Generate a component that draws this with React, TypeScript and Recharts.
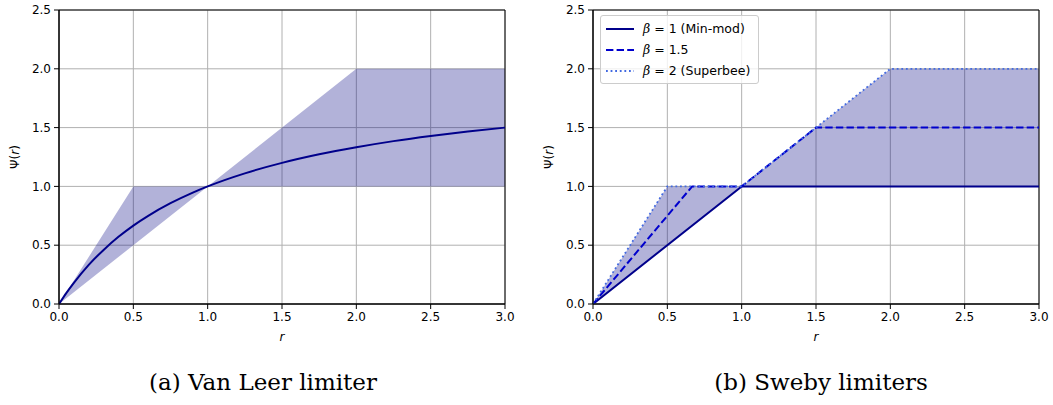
import React from 'react';
import {
  ComposedChart,
  Area,
  Line,
  XAxis,
  YAxis,
  CartesianGrid,
  ReferenceArea
} from 'recharts';

// axis ticks
const R_TICKS = [0, 0.5, 1, 1.5, 2, 2.5, 3];
const PSI_TICKS = [0, 0.5, 1, 1.5, 2, 2.5];

// second-order TVD region (shaded)
const regionR = [0, 0.5, 1, 2, 3];
const regionLow = [0, 0.5, 1, 1, 1];
const regionHigh = [0, 1, 1, 2, 2];

// Van Leer limiter curve
const vanLeerR = [0, 0.05, 0.1, 0.2, 0.3, 0.4, 0.5, 0.6, 0.75, 0.9, 1, 1.25, 1.5, 1.75, 2, 2.25, 2.5, 2.75, 3];
const vanLeerPsi = [0, 0.095, 0.18, 0.333, 0.46, 0.571, 0.667, 0.75, 0.857, 0.947, 1, 1.111, 1.2, 1.273, 1.333, 1.385, 1.429, 1.467, 1.5];

// Sweby limiters
const minmodR = [0, 1, 3];
const minmodPsi = [0, 1, 1];
const beta15R = [0, 0.667, 1, 1.5, 3];
const beta15Psi = [0, 1, 1, 1.5, 1.5];
const superbeeR = [0, 0.5, 1, 2, 3];
const superbeePsi = [0, 1, 1, 2, 2];

const zip = (xs: number[], ys: number[]) => xs.map((r, i) => ({ r, psi: ys[i] }));
const regionData = regionR.map((r, i) => ({ r, range: [regionLow[i], regionHigh[i]] }));

const SWEBY = [
  { name: '1 (Min-mod)', data: zip(minmodR, minmodPsi), stroke: '#00008b', dash: undefined, width: 2 },
  { name: '1.5', data: zip(beta15R, beta15Psi), stroke: '#0000cd', dash: '7.4 3.2', width: 2 },
  { name: '2 (Superbee)', data: zip(superbeeR, superbeePsi), stroke: '#4169e1', dash: '1.8 2.8', width: 1.8 },
];

const SANS = '"DejaVu Sans", sans-serif';
const tick = { fill: '#000', fontSize: 12, fontFamily: SANS };

const YLabel = () => (
  <text
    x={19}
    y={157}
    transform="rotate(-90 19 157)"
    textAnchor="middle"
    fontSize={12}
    fontFamily={SANS}
    fill="#000"
  >
    Ψ(<tspan fontStyle="italic">r</tspan>)
  </text>
);

const SwebyLegend = () => (
  <div
    style={{
      position: 'absolute',
      left: 600,
      top: 15,
      width: 159,
      boxSizing: 'border-box',
      background: 'rgba(255,255,255,0.8)',
      border: '1px solid #cccccc',
      borderRadius: 3,
      padding: '2px 0 2px 5px',
      fontFamily: SANS,
      fontSize: 12.5,
      color: '#000',
      lineHeight: '21px'
    }}
  >
    {SWEBY.map((s) => (
      <div key={s.name} style={{ display: 'flex', alignItems: 'center', whiteSpace: 'nowrap' }}>
        <svg width={28} height={10} style={{ marginRight: 9 }}>
          <line x1={0} y1={5} x2={28} y2={5} stroke={s.stroke} strokeWidth={s.width} strokeDasharray={s.dash} />
        </svg>
        <span>
          <i style={{ fontFamily: '"DejaVu Serif", serif' }}>β</i> = {s.name}
        </span>
      </div>
    ))}
  </div>
);

const Panel: React.FC<{ children: React.ReactNode; width: number; right: number }> = ({
  children,
  width,
  right
}) => (
  <ComposedChart width={width} height={344} margin={{ top: 10, right, left: 0, bottom: 0 }}>
    <CartesianGrid stroke="#b0b0b0" strokeWidth={1} />
    <XAxis
      type="number"
      dataKey="r"
      domain={[0, 3]}
      ticks={R_TICKS}
      tickFormatter={(v: number) => v.toFixed(1)}
      tick={tick}
      tickSize={5}
      tickMargin={3}
      height={40}
      stroke="#000"
      allowDataOverflow
      label={{ value: 'r', position: 'insideBottom', offset: 3, fontSize: 12, fontStyle: 'italic', fill: '#000', fontFamily: SANS }}
    />
    <YAxis
      type="number"
      domain={[0, 2.5]}
      ticks={PSI_TICKS}
      tickFormatter={(v: number) => v.toFixed(1)}
      tick={tick}
      tickSize={5}
      tickMargin={3}
      width={59}
      stroke="#000"
      allowDataOverflow
    />
    <Area
      data={regionData}
      dataKey="range"
      type="linear"
      stroke="none"
      fill="#000080"
      fillOpacity={0.3}
      isAnimationActive={false}
    />
    {children}
    <ReferenceArea x1={0} x2={3} y1={0} y2={2.5} fill="none" stroke="#000" strokeWidth={1} ifOverflow="visible" />
  </ComposedChart>
);

const captionStyle: React.CSSProperties = {
  position: 'absolute',
  top: 369,
  fontFamily: '"DejaVu Serif", serif',
  fontSize: 23,
  color: '#000',
  textAlign: 'center',
  width: 400,
  whiteSpace: 'nowrap'
};

export default function App() {
  return (
    <div style={{ position: 'absolute', left: 0, top: 0, width: 1053, height: 405, background: '#fff' }}>
      <div style={{ position: 'absolute', left: 0, top: 0 }}>
        <Panel width={530} right={25}>
          <Line
            data={zip(vanLeerR, vanLeerPsi)}
            dataKey="psi"
            type="monotone"
            stroke="#00008b"
            strokeWidth={2}
            dot={false}
            isAnimationActive={false}
          />
        </Panel>
        <svg style={{ position: 'absolute', left: 0, top: 0 }} width={40} height={340}>
          <YLabel />
        </svg>
      </div>
      <div style={{ position: 'absolute', left: 534, top: 0 }}>
        <Panel width={519} right={14}>
          {SWEBY.map((s) => (
            <Line
              key={s.name}
              data={s.data}
              dataKey="psi"
              name={s.name}
              type="linear"
              stroke={s.stroke}
              strokeWidth={s.width}
              strokeDasharray={s.dash}
              dot={false}
              isAnimationActive={false}
            />
          ))}
        </Panel>
        <svg style={{ position: 'absolute', left: 0, top: 0 }} width={40} height={340}>
          <YLabel />
        </svg>
      </div>
      <SwebyLegend />
      <div style={{ ...captionStyle, left: 263 - 200 }}>(a) Van Leer limiter</div>
      <div style={{ ...captionStyle, left: 821 - 200 }}>(b) Sweby limiters</div>
    </div>
  );
}
